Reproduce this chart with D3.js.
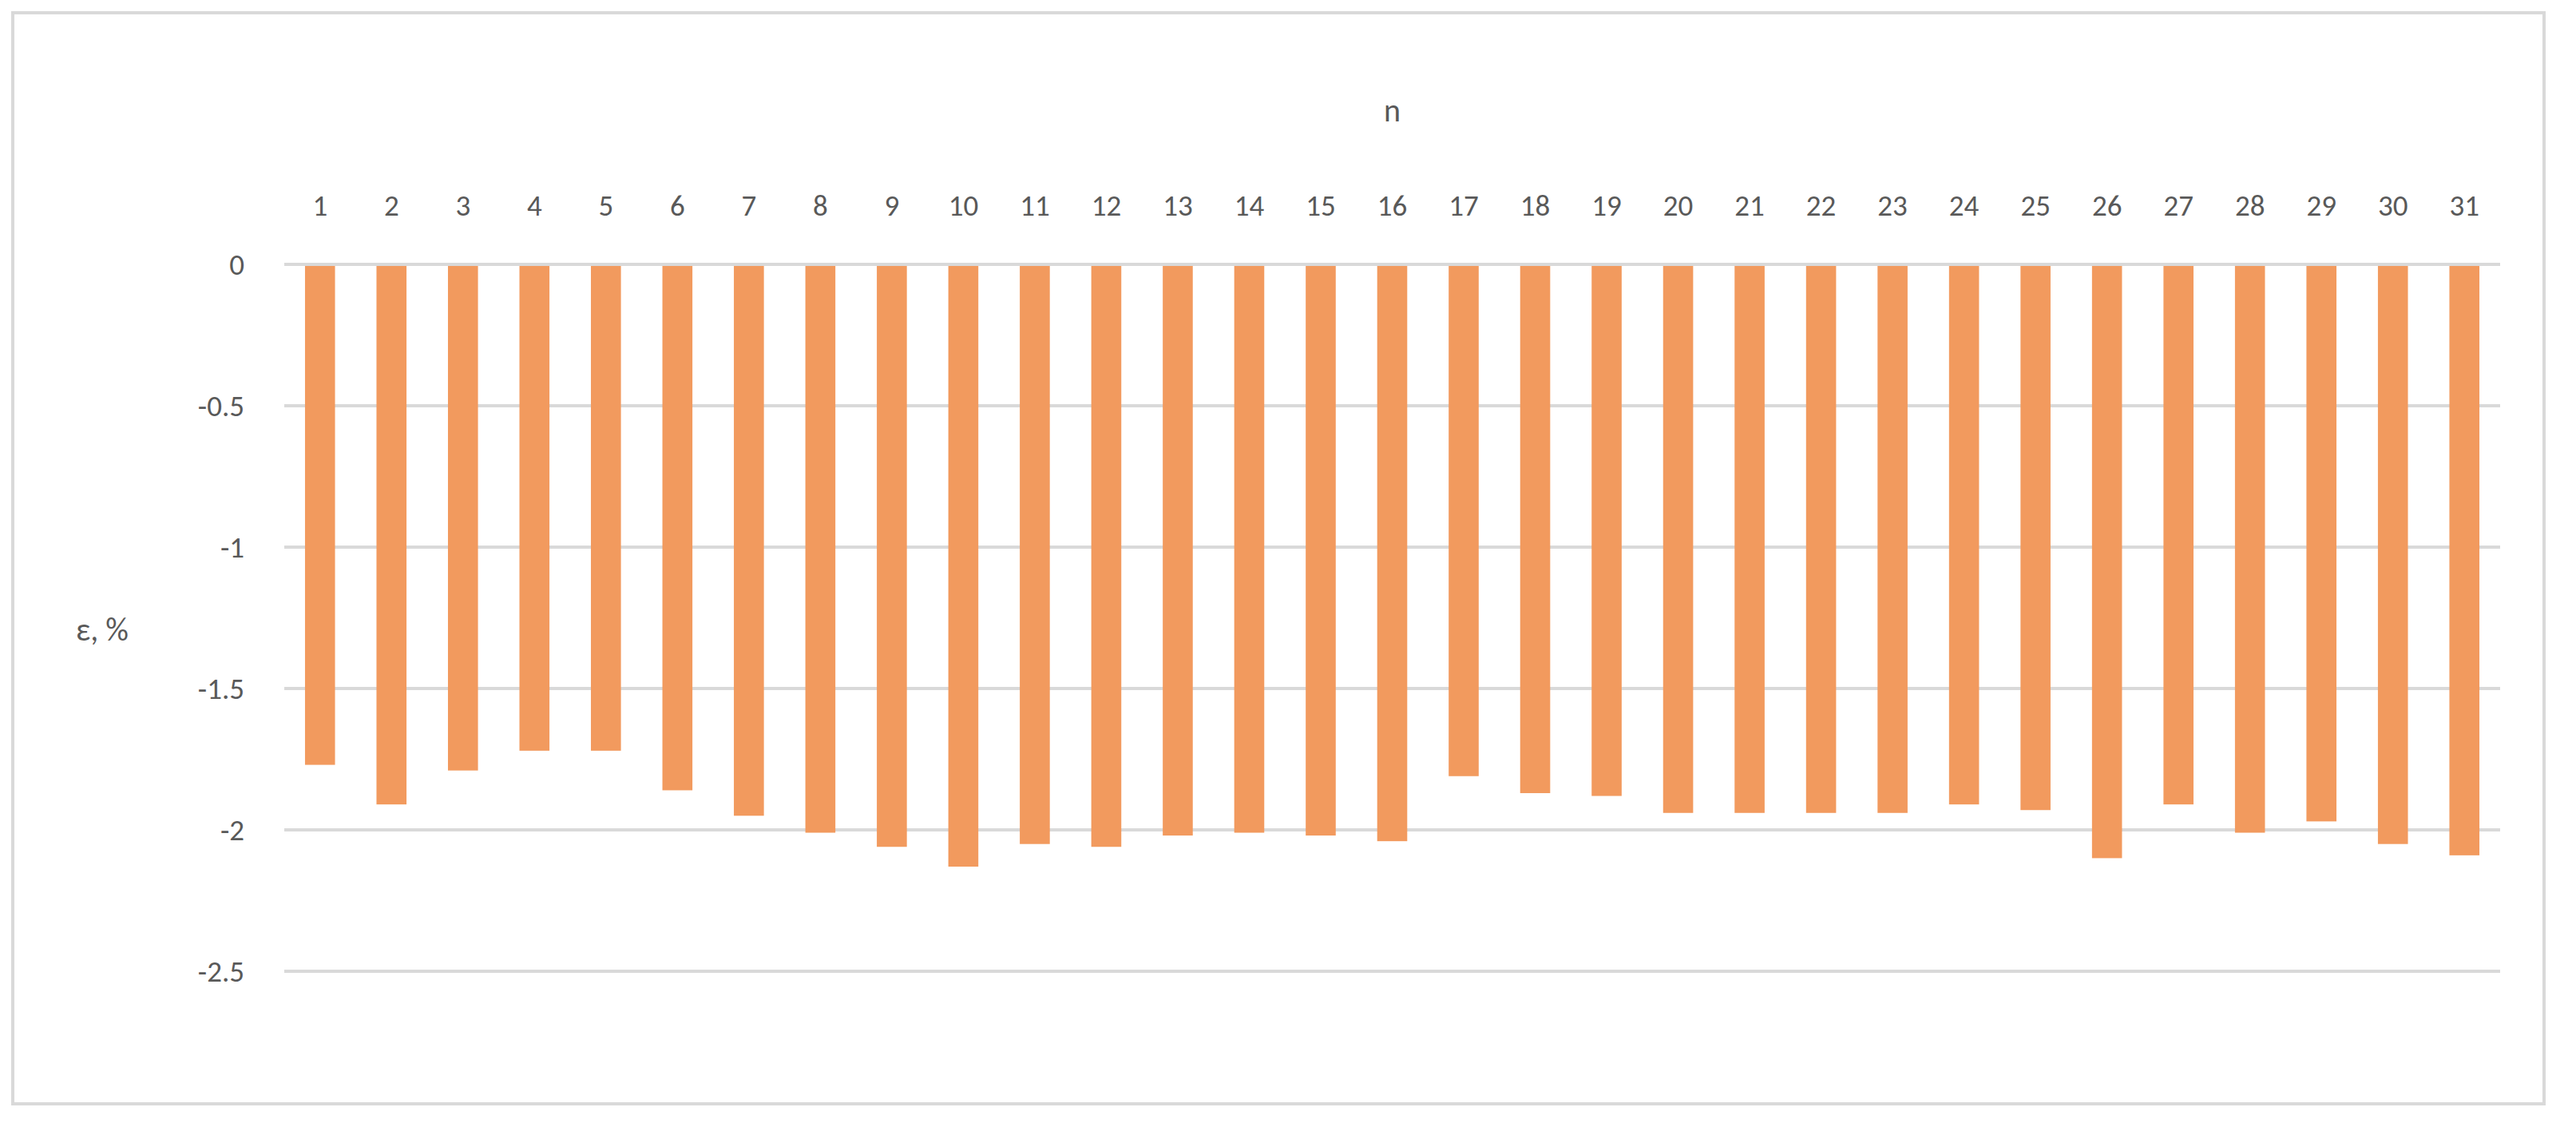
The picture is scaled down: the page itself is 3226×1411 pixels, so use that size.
<!DOCTYPE html>
<html>
<head>
<meta charset="utf-8">
<script src="https://cdn.jsdelivr.net/npm/d3@7"></script>
<style>
  body{margin:0;background:#fff;}
  text{font-family:Calibri,"Liberation Sans","Open Sans",sans-serif;fill:#595959;}
</style>
</head>
<body>
<script>
const categories = d3.range(1, 32).map(String);
const values = [-1.77,-1.91,-1.79,-1.72,-1.72,-1.86,-1.95,-2.01,-2.06,-2.13,-2.05,-2.06,-2.02,-2.01,-2.02,-2.04,
                -1.81,-1.87,-1.88,-1.94,-1.94,-1.94,-1.94,-1.91,-1.93,-2.10,-1.91,-2.01,-1.97,-2.05,-2.09];
const yTicks = [0,-0.5,-1,-1.5,-2,-2.5];

const W = 3226, H = 1411;
const plotLeft = 356, plotRight = 3131, plotTop = 331, plotBottom = 1216;

const svg = d3.select("body").append("svg").attr("width",W).attr("height",H);
svg.append("rect").attr("x",16).attr("y",16).attr("width",3170).attr("height",1366)
   .attr("fill","#fff").attr("stroke","#d9d9d9").attr("stroke-width",4);

const x = d3.scaleBand().domain(categories).range([plotLeft,plotRight]).paddingInner(0.58).paddingOuter(0.29);
const y = d3.scaleLinear().domain([0,-2.5]).range([plotTop,plotBottom]);

svg.selectAll(".grid").data(yTicks).join("line").attr("class","grid")
   .attr("x1",plotLeft).attr("x2",plotRight).attr("y1",d=>y(d)).attr("y2",d=>y(d))
   .attr("stroke","#d9d9d9").attr("stroke-width",4);

svg.selectAll(".ylab").data(yTicks).join("text").attr("class","ylab")
   .attr("x",306).attr("y",d=>y(d)).attr("dy","0.35em").attr("text-anchor","end")
   .style("font-size","37px").text(d=>d);

svg.selectAll(".bar").data(values).join("rect").attr("class","bar")
   .attr("x",(d,i)=>x(categories[i])).attr("width",x.bandwidth())
   .attr("y",y(0)+2).attr("height",d=>y(d)-y(0)-2).attr("fill","#f29a5e");

svg.selectAll(".xlab").data(categories).join("text").attr("class","xlab")
   .attr("x",d=>x(d)+x.bandwidth()/2).attr("y",257).attr("dy","0.35em").attr("text-anchor","middle")
   .style("font-size","37px").text(d=>d);

svg.append("text").attr("x",(plotLeft+plotRight)/2).attr("y",138).attr("dy","0.35em")
   .attr("text-anchor","middle").style("font-size","40px").text("n");
svg.append("text").attr("x",128).attr("y",788).attr("dy","0.35em")
   .attr("text-anchor","middle").style("font-size","40px").text("ε, %");
</script>
</body>
</html>
